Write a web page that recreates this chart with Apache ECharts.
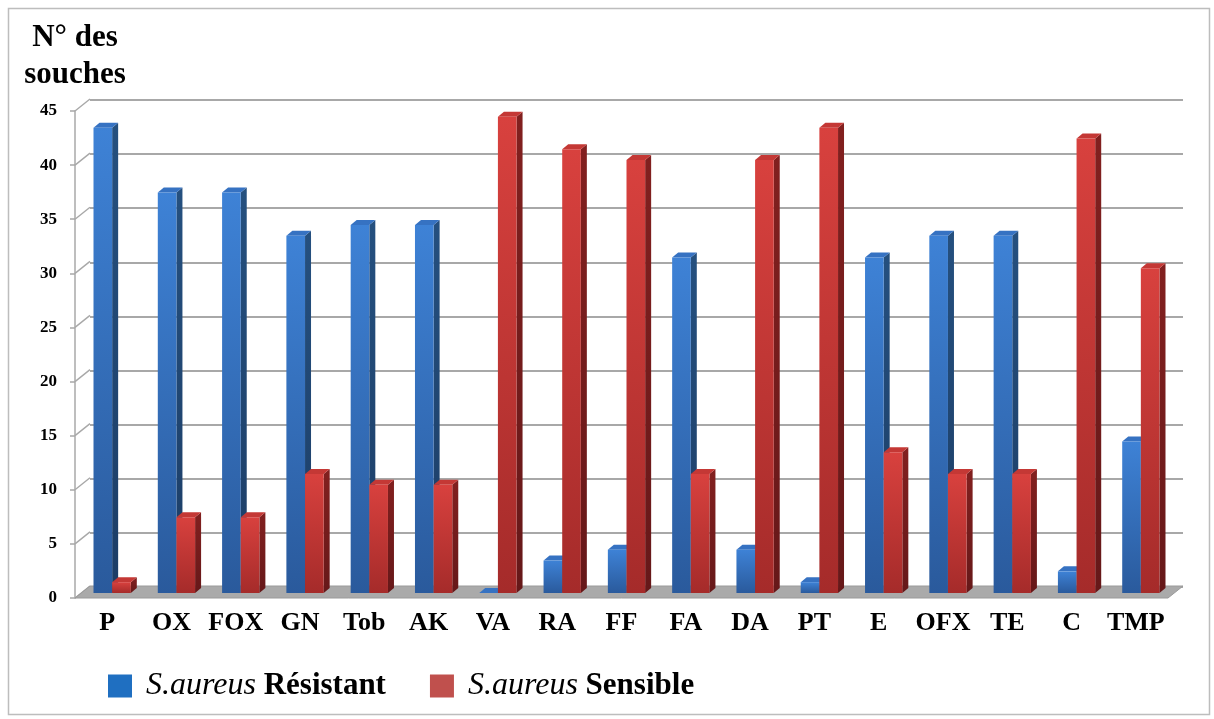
<!DOCTYPE html>
<html>
<head>
<meta charset="utf-8">
<style>
  html, body { margin: 0; padding: 0; background: #ffffff; }
  #chart { width: 1214px; height: 719px; }
</style>
<script src="https://cdn.jsdelivr.net/npm/echarts@6/dist/echarts.min.js"></script>
</head>
<body>
<div id="chart"></div>
<script>
// Antibiotic susceptibility of S. aureus strains: number of strains per antibiotic
const categories = ['P', 'OX', 'FOX', 'GN', 'Tob', 'AK', 'VA', 'RA', 'FF', 'FA', 'DA', 'PT', 'E', 'OFX', 'TE', 'C', 'TMP'];
const resistant = [43, 37, 37, 33, 34, 34, 0, 3, 4, 31, 4, 1, 31, 33, 33, 2, 14];
const sensible = [1, 7, 7, 11, 10, 10, 44, 41, 40, 11, 40, 43, 13, 11, 11, 42, 30];
const yTicks = [0, 5, 10, 15, 20, 25, 30, 35, 40, 45];
const seriesNames = ['S.aureus Résistant', 'S.aureus Sensible'];

const SERIF = '"Liberation Serif", "Times New Roman", serif';
const WALL_DX = 15, WALL_DY = -12;   // depth of the floor / side wall
const BAR_DX = 6, BAR_DY = -5;       // depth of each bar
const BAR_SHIFT_X = 5, BAR_SHIFT_Y = -5;

const chart = echarts.init(document.getElementById('chart'), null, { renderer: 'canvas' });

const grad = (c0, c1, h) => new echarts.graphic.LinearGradient(0, 0, h ? 1 : 0, h ? 0 : 1, [
  { offset: 0, color: c0 }, { offset: 1, color: c1 }
]);

const palettes = [
  { front: grad('#3e82d6', '#2a5a9c'), side: grad('#25507f', '#1c3d66'), top: '#3672c2' },
  { front: grad('#d8413e', '#a52b2a'), side: grad('#82201f', '#661819'), top: '#c43835' }
];

function barRenderer(slot) {
  const pal = palettes[slot];
  return function (params, api) {
    const i = api.value(0), v = api.value(1);
    const base = api.coord([i, 0]);
    const top = api.coord([i, v]);
    const band = api.size([1, 0])[0];
    const w = band * 0.29;
    const x0 = base[0] + BAR_SHIFT_X + (slot === 0 ? -w : 0);
    const x1 = x0 + w;
    const yb = base[1] + BAR_SHIFT_Y;
    const yt = top[1] + BAR_SHIFT_Y;
    return {
      type: 'group',
      children: [
        { type: 'polygon', shape: { points: [[x1, yt], [x1 + BAR_DX, yt + BAR_DY], [x1 + BAR_DX, yb + BAR_DY], [x1, yb]] }, style: { fill: pal.side } },
        { type: 'polygon', shape: { points: [[x0, yt], [x0 + BAR_DX, yt + BAR_DY], [x1 + BAR_DX, yt + BAR_DY], [x1, yt]] }, style: { fill: pal.top } },
        { type: 'rect', shape: { x: x0, y: yt, width: w, height: yb - yt }, style: { fill: pal.front } }
      ]
    };
  };
}

const option = {
  animation: false,
  backgroundColor: '#ffffff',
  graphic: [
    { type: 'rect', shape: { x: 8.5, y: 8.5, width: 1201, height: 706 }, style: { fill: 'none', stroke: '#bdbdbd', lineWidth: 1.5 }, z: 0 },
    { type: 'text', x: 75, y: 19, style: { text: 'N° des\nsouches', font: 'bold 31px ' + SERIF, lineHeight: 37, align: 'center', verticalAlign: 'top', fill: '#000000' } }
  ],
  legend: {
    left: 108, top: 670, padding: 0,
    itemWidth: 24, itemHeight: 23, itemGap: 44,
    icon: 'rect',
    data: seriesNames,
    formatter: name => '{i|S.aureus}{b| ' + name.replace('S.aureus ', '') + '}',
    textStyle: {
      rich: {
        i: { fontFamily: SERIF, fontStyle: 'italic', fontSize: 32, color: '#000', padding: [0, 0, 0, 9] },
        b: { fontFamily: SERIF, fontWeight: 'bold', fontSize: 31, color: '#000' }
      }
    }
  },
  grid: [
    { left: 90, top: 100, width: 1093, height: 487 },
    { left: 75, top: 111, width: 1093, height: 487 }
  ],
  xAxis: [
    { gridIndex: 0, type: 'category', data: categories, show: false },
    {
      gridIndex: 1, type: 'category', data: categories,
      axisLine: { show: false }, axisTick: { show: false },
      axisLabel: { interval: 0, hideOverlap: false, margin: 12, fontFamily: SERIF, fontWeight: 'bold', fontSize: 26, color: '#000' }
    }
  ],
  yAxis: [
    {
      gridIndex: 0, type: 'value', min: 0, max: 45, interval: 5,
      axisLine: { show: false }, axisTick: { show: false }, axisLabel: { show: false },
      splitLine: { show: true, lineStyle: { color: '#a8a8a8', width: 2 } }
    },
    {
      gridIndex: 1, type: 'value', min: 0, max: 45, interval: 5,
      axisLine: { show: true, lineStyle: { color: '#a8a8a8', width: 1.5 } },
      axisTick: { show: true, length: 5, lineStyle: { color: '#a8a8a8', width: 1.5 } },
      axisLabel: { margin: 18, fontFamily: SERIF, fontWeight: 'bold', fontSize: 17, color: '#000' },
      splitLine: { show: false }
    }
  ],
  series: [
    {
      // side wall: slanted lines joining front ticks to the back gridlines
      type: 'custom', xAxisIndex: 1, yAxisIndex: 1, clip: false, silent: true, z: 1,
      data: yTicks.map(v => [0, v]),
      renderItem: (params, api) => {
        const p = api.coord([0, api.value(1)]);
        const lx = p[0] - api.size([1, 0])[0] / 2;
        return { type: 'line', shape: { x1: lx, y1: p[1], x2: lx + WALL_DX, y2: p[1] + WALL_DY }, style: { stroke: '#a8a8a8', lineWidth: 1.5 } };
      }
    },
    {
      // floor
      type: 'custom', xAxisIndex: 1, yAxisIndex: 1, clip: false, silent: true, z: 1,
      data: [[0, 0]],
      renderItem: (params, api) => {
        const half = api.size([1, 0])[0] / 2;
        const a = api.coord([0, 0]);
        const b = api.coord([categories.length - 1, 0]);
        const xl = a[0] - half, xr = b[0] + half, y = a[1];
        return {
          type: 'polygon',
          shape: { points: [[xl, y], [xr, y], [xr + WALL_DX, y + WALL_DY], [xl + WALL_DX, y + WALL_DY]] },
          style: { fill: '#aaaaaa', stroke: '#9a9a9a', lineWidth: 1 }
        };
      }
    },
    {
      name: seriesNames[0], type: 'custom', xAxisIndex: 1, yAxisIndex: 1, clip: false, z: 3,
      itemStyle: { color: '#1f6fc1' },
      data: resistant.map((v, i) => [i, v]),
      renderItem: barRenderer(0)
    },
    {
      name: seriesNames[1], type: 'custom', xAxisIndex: 1, yAxisIndex: 1, clip: false, z: 4,
      itemStyle: { color: '#c0504d' },
      data: sensible.map((v, i) => [i, v]),
      renderItem: barRenderer(1)
    }
  ]
};

chart.setOption(option);
</script>
</body>
</html>
